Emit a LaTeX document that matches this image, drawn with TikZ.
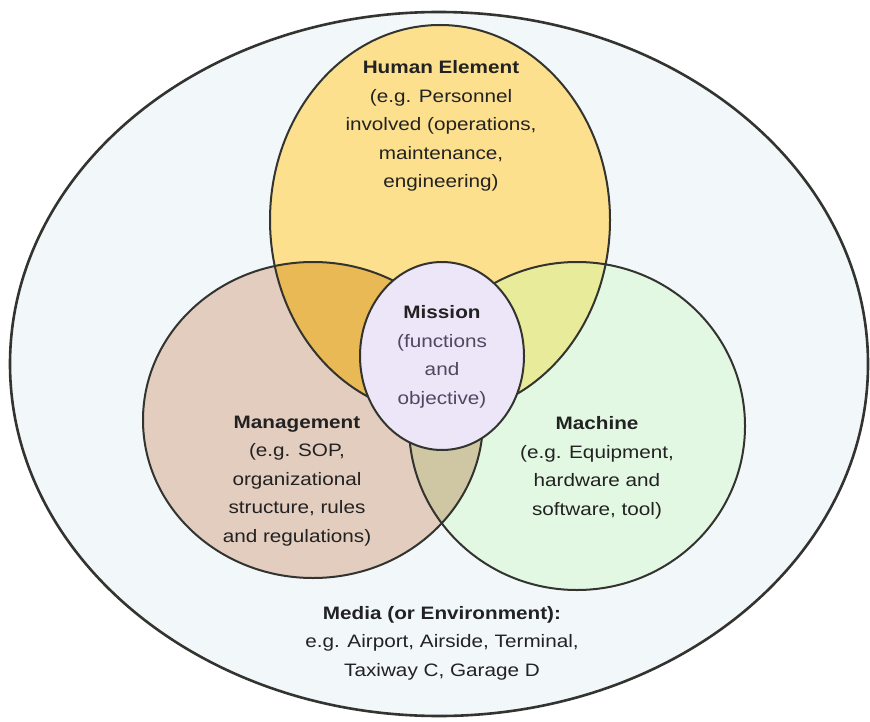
\documentclass[tikz,border=0pt]{standalone}
\usepackage{fontspec}
\setmainfont{Liberation Sans}[FakeStretch=1.15]
\definecolor{outerfill}{HTML}{F2F7FA}
\definecolor{humanfill}{HTML}{FCE08E}
\definecolor{mgmtfill}{HTML}{E3CDBF}
\definecolor{machfill}{HTML}{E2F8E2}
\definecolor{hmfill}{HTML}{E8B955}
\definecolor{hcfill}{HTML}{E8EB9A}
\definecolor{mcfill}{HTML}{CFC6A3}
\definecolor{missionfill}{HTML}{ECE6F8}
\definecolor{linegray}{HTML}{333330}
\definecolor{textgray}{HTML}{222222}
\definecolor{softgray}{HTML}{4F4860}
\begin{document}
\begin{tikzpicture}[x=0.5pt,y=-0.5pt,
    rim/.style={draw=linegray,line width=1pt},
    vtext/.style={align=center,font=\fontsize{9}{14.3}\selectfont,text=textgray}]
    \useasboundingbox (0,0) rectangle (870,721);
    \draw[rim,line width=1.3pt,fill=outerfill] (439,364) ellipse (429 and 352);
    \fill[humanfill] (440,220) ellipse (170 and 195);
    \fill[mgmtfill] (313,420) ellipse (170 and 158);
    \fill[machfill] (577,426) ellipse (168 and 164);
    % overlaps
    \begin{scope}
        \clip (440,220) ellipse (170 and 195);
        \fill[hmfill] (313,420) ellipse (170 and 158);
        \fill[hcfill] (577,426) ellipse (168 and 164);
    \end{scope}
    \begin{scope}
        \clip (313,420) ellipse (170 and 158);
        \fill[mcfill] (577,426) ellipse (168 and 164);
    \end{scope}
    \draw[rim] (440,220) ellipse (170 and 195);
    \draw[rim] (313,420) ellipse (170 and 158);
    \draw[rim] (577,426) ellipse (168 and 164);
    \draw[rim,fill=missionfill] (442,356) ellipse (82 and 94);
    \node[vtext] (human) at (441,126) {\textbf{Human Element}\\(e.g. Personnel\\involved (operations,\\maintenance,\\engineering)};
    \node[vtext] (mission) at (442,357) {\textbf{Mission}\\\color{softgray}(functions\\\color{softgray}and\\\color{softgray}objective)};
    \node[vtext] (machine) at (597,468) {\textbf{Machine}\\(e.g. Equipment,\\hardware and\\software, tool)};
    \node[vtext] (mgmt) at (297,481) {\textbf{Management}\\(e.g. SOP,\\organizational\\structure, rules\\and regulations)};
    \node[vtext] (media) at (442,643) {\textbf{Media (or Environment):}\\e.g. Airport, Airside, Terminal,\\Taxiway C, Garage D};
\end{tikzpicture}
\end{document}
